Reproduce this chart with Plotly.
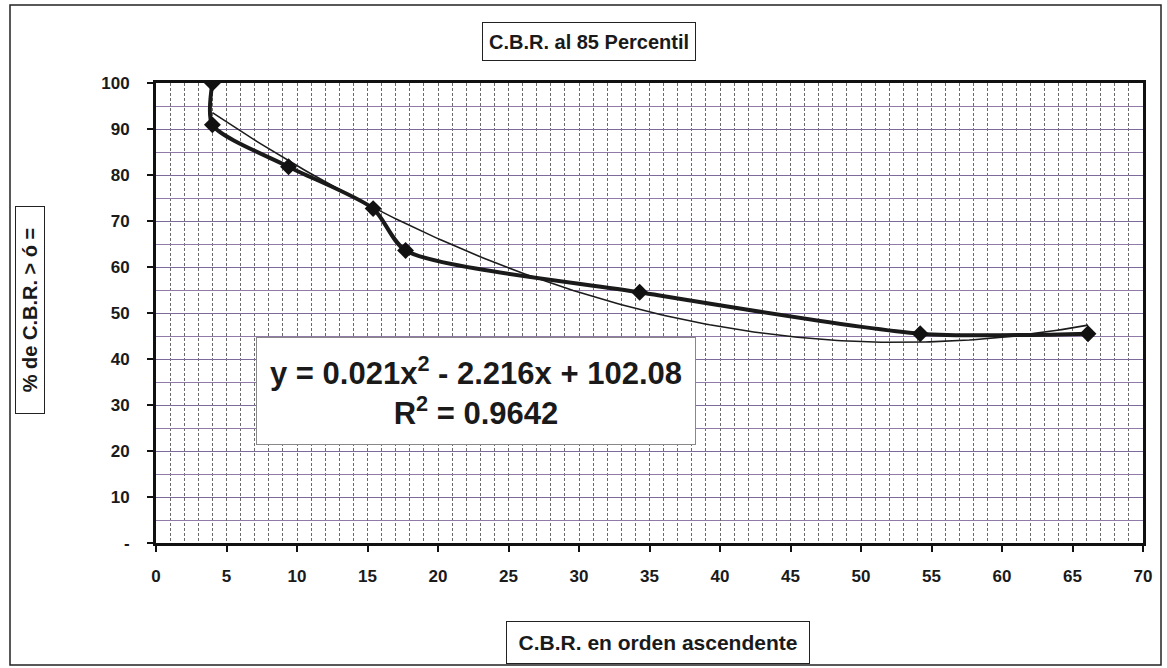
import numpy as np
import plotly.graph_objects as go

# Data
cbr_values = [4.0, 4.0, 9.4, 15.4, 17.7, 34.3, 54.2, 66.1]
pct_values = [100.0, 90.9, 81.8, 72.7, 63.6, 54.5, 45.5, 45.5]

# Polynomial trendline coefficients shown on the chart
trend_coef = [0.021, -2.216, 102.08]
trend_r2 = 0.9642

y_tickvals = [0, 10, 20, 30, 40, 50, 60, 70, 80, 90, 100]
y_ticktext = ["-", "10", "20", "30", "40", "50", "60", "70", "80", "90", "100"]
x_tickvals = [0, 5, 10, 15, 20, 25, 30, 35, 40, 45, 50, 55, 60, 65, 70]

title_text = "C.B.R. al 85 Percentil"
x_title = "C.B.R. en orden ascendente"
y_title = "% de C.B.R. > ó ="

FONT = "Liberation Sans, Arial, sans-serif"

# plot area in pixels
W, H = 1167, 668
L, R, T, B = 156, 1143, 83, 543


def px(xp):
    return (xp - L) / (R - L)


def py(yp):
    return (B - yp) / (B - T)


fig = go.Figure()

tx = np.linspace(min(cbr_values), max(cbr_values), 200)
ty = np.polyval(trend_coef, tx)
fig.add_trace(go.Scatter(x=tx, y=ty, mode="lines",
                         line=dict(color="#1c1c1c", width=1.6),
                         hoverinfo="skip", showlegend=False))

fig.add_trace(go.Scatter(x=cbr_values, y=pct_values, mode="lines+markers",
                         line=dict(color="#1a1a1a", width=4, shape="spline", smoothing=0.7),
                         marker=dict(symbol="diamond", size=13, color="#111111"),
                         showlegend=False))

fig.update_layout(
    width=W, height=H,
    margin=dict(l=L, r=W - R, t=T, b=H - B),
    paper_bgcolor="white", plot_bgcolor="white",
    font=dict(family=FONT, color="#1a1a1a"),
    showlegend=False,
)

fig.update_xaxes(
    range=[0, 70], tickvals=x_tickvals,
    tickfont=dict(family=FONT, size=17, color="#1a1a1a", weight="bold"),
    ticks="outside", ticklen=6, tickcolor="#111", tickwidth=1.5,
    ticklabelstandoff=10,
    showline=True, linecolor="#111", linewidth=3, mirror=True,
    showgrid=True, gridcolor="#6a6a6a", gridwidth=1, griddash="3px,2px",
    minor=dict(dtick=1, showgrid=True, gridcolor="#6a6a6a", gridwidth=1, griddash="3px,2px"),
    zeroline=False, fixedrange=True,
)
fig.update_yaxes(
    range=[0, 100], tickvals=y_tickvals, ticktext=y_ticktext,
    tickfont=dict(family=FONT, size=17, color="#1a1a1a", weight="bold"),
    ticks="outside", ticklen=6, tickcolor="#111", tickwidth=1.5,
    ticklabelstandoff=14,
    showline=True, linecolor="#111", linewidth=3, mirror=True,
    showgrid=True, gridcolor="#7c6a9a", gridwidth=1,
    minor=dict(dtick=5, showgrid=True, gridcolor="#8f7aa8", gridwidth=1),
    zeroline=False, fixedrange=True,
)

# outer chart border
fig.add_shape(type="rect", xref="paper", yref="paper",
              x0=px(10), x1=px(1161), y0=py(665), y1=py(5),
              line=dict(color="#222", width=1.5), layer="below")

# title box
fig.add_annotation(text=title_text, xref="paper", yref="paper",
                   x=px(589), y=py(41), xanchor="center", yanchor="middle", showarrow=False,
                   font=dict(family=FONT, size=20, color="#1a1a1a", weight="bold"),
                   width=202, height=27,
                   bordercolor="#222", borderwidth=1, borderpad=5, bgcolor="white")

# x axis title box
fig.add_annotation(text=x_title, xref="paper", yref="paper",
                   x=px(658), y=py(642), xanchor="center", yanchor="middle", showarrow=False,
                   font=dict(family=FONT, size=21, color="#1a1a1a", weight="bold"),
                   width=290, height=29,
                   bordercolor="#222", borderwidth=1, borderpad=6, bgcolor="white")

# y axis title box
fig.add_annotation(text=y_title, xref="paper", yref="paper",
                   x=px(30), y=py(310), xanchor="center", yanchor="middle", showarrow=False,
                   textangle=-90,
                   font=dict(family=FONT, size=20, color="#1a1a1a", weight="bold"),
                   width=200, height=22,
                   bordercolor="#222", borderwidth=1, borderpad=3, bgcolor="white")

# equation box
eq_text = ("y = %.3fx<sup>2</sup> - %.3fx + %.2f<br>R<sup>2</sup> = %.4f"
           % (trend_coef[0], -trend_coef[1], trend_coef[2], trend_r2))
fig.add_annotation(text=eq_text, xref="paper", yref="paper",
                   x=px(476), y=py(391), xanchor="center", yanchor="middle",
                   showarrow=False, align="center",
                   font=dict(family=FONT, size=31, color="#1a1a1a", weight="bold"),
                   width=424, height=92,
                   bordercolor="#888", borderwidth=1, borderpad=7, bgcolor="white")

fig.write_html("out.html", config={"displayModeBar": False},
               post_script="document.body.style.margin='0';")
